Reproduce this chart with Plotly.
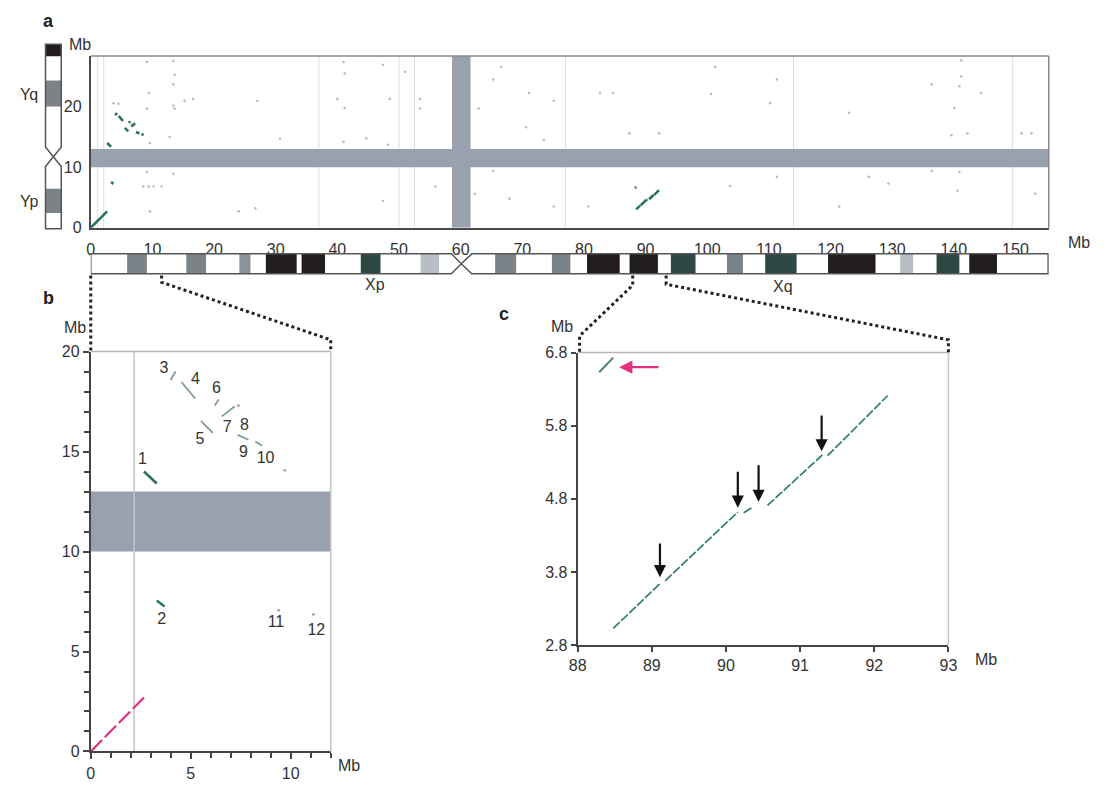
import plotly.graph_objects as go

# The page body keeps its default 8px margin, so the figure is sized to fill
# the 1111x790 window exactly and pixel positions are measured from the window.
WIN_W, WIN_H = 1111, 790
OFF = 8
W, H = WIN_W - 2 * OFF, WIN_H - 2 * OFF
def px(x): return (x - OFF) / W
def py(y): return 1 - (y - OFF) / H

FONT = "Liberation Sans, Arial, Helvetica, sans-serif"
TEAL = "#2b7463"
TEAL_C = "#2f7f70"
PINK = "#e0307f"
BAND = "#9aa1ae"

# ---------------- data ----------------
# Panel a: X chromosome (Mb, x) vs Y chromosome (Mb, y)
a_xticks = list(range(0, 151, 10))
a_yticks = [0, 10, 20]
a_xmax, a_ymax = 155.4, 28.4
a_band_y = [10.0, 13.0]          # masked region on Y
a_band_x = [58.6, 61.6]          # masked region on X (centromere)
a_vlines = [1.1, 2.1, 37.0, 50.0, 52.5, 77.0, 114.0, 149.5]

a_dot_x = [9.1, 13.4, 13.6, 13.4, 9.4, 13.4, 13.6, 9.1, 3.7, 4.5, 15.2, 16.6, 12.8, 9.6, 9.1, 13.4,
           8.5, 9.4, 10.2, 11.5, 9.6, 24.0, 26.7, 30.7, 27.0, 41.0, 41.2, 40.0, 41.2, 41.0, 44.7, 48.2,
           47.4, 48.5, 51.0, 53.4, 53.4, 62.9, 65.3, 66.6, 71.1, 75.1, 70.6, 73.5, 82.6, 84.7, 92.2,
           87.4, 62.3, 67.9, 65.3, 55.9, 47.4, 75.1, 80.7, 101.3, 100.6, 111.3, 110.2, 123.0, 136.4,
           141.2, 141.2, 140.9, 140.1, 144.4, 139.6, 142.2, 151.0, 152.6, 140.9, 140.6, 136.4, 103.7,
           126.2, 121.4, 129.4, 153.2, 111.3]
a_dot_y = [27.4, 27.6, 25.3, 23.7, 22.3, 20.2, 19.7, 19.7, 20.6, 20.5, 21.0, 21.3, 15.0, 14.0, 9.2, 8.9,
           6.8, 6.8, 6.8, 6.8, 2.7, 2.7, 3.2, 14.7, 21.0, 27.4, 25.5, 21.3, 19.8, 14.2, 14.8, 13.7,
           26.9, 21.3, 25.8, 21.3, 19.7, 19.7, 24.5, 26.6, 22.3, 21.0, 16.6, 14.5, 22.3, 22.3, 15.6,
           15.6, 5.6, 4.8, 9.4, 6.8, 4.4, 3.5, 3.5, 26.6, 22.1, 24.5, 20.6, 19.0, 23.7, 27.7, 25.0,
           23.4, 19.8, 22.3, 15.3, 15.6, 15.6, 15.6, 9.2, 6.1, 9.4, 6.9, 8.4, 3.5, 7.3, 5.6, 8.4]

# Diagonal match at the tip of Xp / Yp (PAR1)
diag_x = [0.0, 2.66]
diag_y = [0.0, 2.70]

# Panel b: segments in the 0-12 Mb (X) x 0-20 Mb (Y) window
b_xticks = [0, 5, 10]
b_yticks = [0, 5, 10, 15, 20]
b_vline = 2.17
b_seg_x0 = [2.66, 3.30, 3.99, 4.53, 5.52, 6.20, 6.55, 7.34, 8.23]
b_seg_x1 = [3.30, 3.69, 4.24, 5.22, 6.10, 6.40, 7.19, 7.88, 8.57]
b_seg_y0 = [14.00, 7.55, 18.58, 18.48, 16.52, 17.30, 16.76, 15.83, 15.50]
b_seg_y1 = [13.40, 7.25, 19.00, 17.65, 15.93, 17.60, 17.25, 15.59, 15.29]
b_seg_dark = [True, True, False, False, False, False, False, False, False]
b_dot_x = [9.70, 9.40, 11.13, 7.38]
b_dot_y = [14.07, 7.06, 6.86, 17.30]
b_lab_text = ["1", "2", "3", "4", "5", "6", "7", "8", "9", "10", "11", "12"]
b_lab_x = [2.59, 3.55, 3.66, 5.23, 5.46, 6.28, 6.82, 7.69, 7.64, 8.74, 9.26, 11.28]
b_lab_y = [14.56, 6.57, 19.13, 18.56, 15.59, 18.15, 16.19, 16.27, 14.94, 14.64, 6.42, 6.03]

# Panel c: 88-93 Mb (X) x 2.8-6.8 Mb (Y)
c_xticks = [88, 89, 90, 91, 92, 93]
c_yticks = [2.8, 3.8, 4.8, 5.8, 6.8]
c_seg_x0 = [88.48, 89.18, 90.24, 90.56, 91.37]
c_seg_x1 = [89.11, 90.16, 90.35, 91.30, 92.18]
c_seg_y0 = [3.03, 3.68, 4.61, 4.71, 5.39]
c_seg_y1 = [3.64, 4.62, 4.68, 5.40, 6.21]
c_extra_x = [88.29, 88.48]
c_extra_y = [6.53, 6.73]
c_arrow_x = [89.11, 90.16, 90.44, 91.29]
c_arrow_tail = [4.21, 5.19, 5.28, 5.96]
c_arrow_tip = [3.73, 4.68, 4.76, 5.45]
c_pink_tail = (89.11, 6.60)
c_pink_head = (88.56, 6.60)

# X chromosome ideogram (Mb)
x_len = 155.3
x_cen, x_cen_lo, x_cen_hi = 60.1, 58.5, 61.8
x_band_start = [5.9, 15.5, 24.1, 28.4, 34.2, 43.8, 53.5, 65.6, 74.8, 80.5, 87.4, 94.1, 103.2, 109.4, 119.6, 131.3, 137.2, 142.5]
x_band_end = [9.1, 18.7, 25.9, 33.4, 38.0, 47.0, 56.5, 69.0, 77.8, 85.8, 92.0, 98.1, 105.8, 114.5, 127.3, 133.4, 140.9, 147.0]
x_band_kind = ["grey", "grey", "grey2", "black", "black", "teal", "light", "grey", "grey", "black", "black", "teal", "grey", "teal", "black", "light", "teal", "black"]
# Y chromosome ideogram (Mb, drawn scale)
y_len = 30.5
y_cen, y_cen_lo, y_cen_hi = 11.9, 10.3, 13.5
y_band_start = [28.5, 20.2, 2.6]
y_band_end = [30.5, 24.5, 6.6]
y_band_kind = ["black", "grey", "grey"]
band_colors = {"grey": "#7b8388", "grey2": "#8a9398", "black": "#221e1f", "teal": "#2e4644", "light": "#b9bdc5"}

# ---------------- figure ----------------
fig = go.Figure()

def seg_xy(x0, x1, y0, y1):
    xs, ys = [], []
    for a, b, c, d in zip(x0, x1, y0, y1):
        xs += [a, b, None]
        ys += [c, d, None]
    return xs, ys

# panel a traces
fig.add_trace(go.Scatter(x=a_dot_x, y=a_dot_y, mode="markers", xaxis="x", yaxis="y",
                         marker=dict(size=2.6, color="#9a9f9f", opacity=0.7), hoverinfo="skip"))
ax_s, ay_s = seg_xy(b_seg_x0 + c_seg_x0 + [diag_x[0], c_extra_x[0]],
                    b_seg_x1 + c_seg_x1 + [diag_x[1], c_extra_x[1]],
                    b_seg_y0 + c_seg_y0 + [diag_y[0], c_extra_y[0]],
                    b_seg_y1 + c_seg_y1 + [diag_y[1], c_extra_y[1]])
fig.add_trace(go.Scatter(x=ax_s, y=ay_s, mode="lines", xaxis="x", yaxis="y",
                         line=dict(color=TEAL, width=2.6), hoverinfo="skip"))

# panel b traces
dx0 = [v for v, d in zip(b_seg_x0, b_seg_dark) if d]
dx1 = [v for v, d in zip(b_seg_x1, b_seg_dark) if d]
dy0 = [v for v, d in zip(b_seg_y0, b_seg_dark) if d]
dy1 = [v for v, d in zip(b_seg_y1, b_seg_dark) if d]
lx0 = [v for v, d in zip(b_seg_x0, b_seg_dark) if not d]
lx1 = [v for v, d in zip(b_seg_x1, b_seg_dark) if not d]
ly0 = [v for v, d in zip(b_seg_y0, b_seg_dark) if not d]
ly1 = [v for v, d in zip(b_seg_y1, b_seg_dark) if not d]
xs, ys = seg_xy(dx0, dx1, dy0, dy1)
fig.add_trace(go.Scatter(x=xs, y=ys, mode="lines", xaxis="x2", yaxis="y2",
                         line=dict(color=TEAL, width=2.6), hoverinfo="skip"))
xs, ys = seg_xy(lx0, lx1, ly0, ly1)
fig.add_trace(go.Scatter(x=xs, y=ys, mode="lines", xaxis="x2", yaxis="y2",
                         line=dict(color="#7f9c97", width=1.8), hoverinfo="skip"))
fig.add_trace(go.Scatter(x=b_dot_x, y=b_dot_y, mode="markers", xaxis="x2", yaxis="y2",
                         marker=dict(size=3, color="#a8b0ae"), hoverinfo="skip"))
fig.add_trace(go.Scatter(x=diag_x, y=diag_y, mode="lines", xaxis="x2", yaxis="y2",
                         line=dict(color=PINK, width=2.2, dash="16px,4px"), hoverinfo="skip"))
fig.add_trace(go.Scatter(x=b_lab_x, y=b_lab_y, mode="text", text=b_lab_text, xaxis="x2", yaxis="y2",
                         textfont=dict(size=16, color="#333", family=FONT), hoverinfo="skip"))

# panel c traces
xs, ys = seg_xy(c_seg_x0, c_seg_x1, c_seg_y0, c_seg_y1)
fig.add_trace(go.Scatter(x=xs, y=ys, mode="lines", xaxis="x3", yaxis="y3",
                         line=dict(color=TEAL_C, width=1.7, dash="9px,2px"), hoverinfo="skip"))
fig.add_trace(go.Scatter(x=c_extra_x, y=c_extra_y, mode="lines", xaxis="x3", yaxis="y3",
                         line=dict(color="#4f7f78", width=2), hoverinfo="skip"))

# ideogram axes placeholders
fig.add_trace(go.Scatter(x=[None], y=[None], xaxis="x4", yaxis="y4", hoverinfo="skip"))
fig.add_trace(go.Scatter(x=[None], y=[None], xaxis="x5", yaxis="y5", hoverinfo="skip"))

tickfont = dict(size=16, color="#333", family=FONT)
common = dict(showgrid=False, zeroline=False, tickfont=tickfont)

fig.update_layout(
    width=W, height=H, margin=dict(l=0, r=0, t=0, b=0),
    paper_bgcolor="white", plot_bgcolor="white", showlegend=False,
    font=dict(family=FONT, color="#333"),
    # panel a
    xaxis=dict(domain=[px(83), px(1057)], range=[0, a_xmax], anchor="y", tickvals=a_xticks,
               showline=True, linecolor="#4a4a4a", linewidth=2, ticks="", ticklabelstandoff=6, **common),
    yaxis=dict(domain=[py(225), py(49)], range=[0, a_ymax], anchor="x", tickvals=a_yticks,
               showline=True, linecolor="#4a4a4a", linewidth=2, ticks="", ticklabelstandoff=4, **common),
    # panel b
    xaxis2=dict(domain=[px(83), px(327)], range=[0, 12], anchor="y2", tickvals=b_xticks,
                showline=True, linecolor="#444", linewidth=2, ticks="outside", ticklen=6, tickwidth=1.5,
                tickcolor="#444", minor=dict(dtick=1, ticks="outside", ticklen=5, tickwidth=1.5, tickcolor="#444"),
                **common),
    yaxis2=dict(domain=[py(762), py(352)], range=[0, 20], anchor="x2", tickvals=b_yticks,
                showline=True, linecolor="#444", linewidth=2, ticks="outside", ticklen=6, tickwidth=1.5,
                tickcolor="#444", minor=dict(dtick=1, ticks="outside", ticklen=5, tickwidth=1.5, tickcolor="#444"),
                **common),
    # panel c
    xaxis3=dict(domain=[px(578), px(955)], range=[88, 93], anchor="y3", tickvals=c_xticks,
                showline=True, linecolor="#444", linewidth=2, ticks="outside", ticklen=5, tickwidth=1.5,
                tickcolor="#444", **common),
    yaxis3=dict(domain=[py(653), py(353)], range=[2.8, 6.8], anchor="x3", tickvals=c_yticks,
                tickformat=".1f", showline=True, linecolor="#444", linewidth=2, ticks="outside", ticklen=5,
                tickwidth=1.5, tickcolor="#444", **common),
    # Y ideogram
    xaxis4=dict(domain=[px(35.4), px(54.6)], range=[-0.1, 1.1], anchor="y4", visible=False),
    yaxis4=dict(domain=[py(227.9), py(35.1)], range=[-0.3, 30.8], anchor="x4", visible=False),
    # X ideogram
    xaxis5=dict(domain=[px(83), px(1057)], range=[0, a_xmax], anchor="y5", visible=False),
    yaxis5=dict(domain=[py(273.8), py(250.2)], range=[-0.08, 1.08], anchor="x5", visible=False),
)

shapes = []
# panel a grey masked bands and faint lines
for v in a_vlines:
    shapes.append(dict(type="line", xref="x", yref="y", x0=v, x1=v, y0=0, y1=a_ymax,
                       line=dict(color="#dcdcdc", width=1), layer="below"))
shapes.append(dict(type="rect", xref="x", yref="y", x0=0, x1=a_xmax, y0=a_band_y[0], y1=a_band_y[1],
                   fillcolor=BAND, line=dict(width=0), layer="below"))
shapes.append(dict(type="rect", xref="x", yref="y", x0=a_band_x[0], x1=a_band_x[1], y0=0, y1=a_ymax,
                   fillcolor=BAND, line=dict(width=0), layer="below"))
shapes.append(dict(type="line", xref="x domain", yref="y domain", x0=0, x1=1, y0=1, y1=1,
                   line=dict(color="#8a8a8a", width=1.5)))
shapes.append(dict(type="line", xref="x domain", yref="y domain", x0=1, x1=1, y0=0, y1=1,
                   line=dict(color="#8a8a8a", width=1.5)))
# panel b
shapes.append(dict(type="rect", xref="x2", yref="y2", x0=0, x1=12, y0=a_band_y[0], y1=a_band_y[1],
                   fillcolor=BAND, line=dict(width=0), layer="below"))
shapes.append(dict(type="line", xref="x2", yref="y2", x0=b_vline, x1=b_vline, y0=0, y1=20,
                   line=dict(color="#c4c4c4", width=1.5), layer="below"))
shapes.append(dict(type="line", xref="x2 domain", yref="y2 domain", x0=0, x1=1, y0=1, y1=1,
                   line=dict(color="#b5b5b5", width=1.5)))
shapes.append(dict(type="line", xref="x2 domain", yref="y2 domain", x0=1, x1=1, y0=0, y1=1,
                   line=dict(color="#c4c4c4", width=1.5)))
# panel c
shapes.append(dict(type="line", xref="x3 domain", yref="y3 domain", x0=0, x1=1, y0=1, y1=1,
                   line=dict(color="#b5b5b5", width=1.5)))
shapes.append(dict(type="line", xref="x3 domain", yref="y3 domain", x0=1, x1=1, y0=0, y1=1,
                   line=dict(color="#c4c4c4", width=1.5)))

# X ideogram
x_outline = (f"M 0,0 L {x_cen_lo},0 L {x_cen},0.5 L {x_cen_hi},0 L {x_len},0 L {x_len},1 "
             f"L {x_cen_hi},1 L {x_cen},0.5 L {x_cen_lo},1 L 0,1 Z")
shapes.append(dict(type="path", xref="x5", yref="y5", path=x_outline, fillcolor="white", line=dict(width=0)))
for s, e, k in zip(x_band_start, x_band_end, x_band_kind):
    shapes.append(dict(type="rect", xref="x5", yref="y5", x0=s, x1=e, y0=0, y1=1,
                       fillcolor=band_colors[k], line=dict(width=0)))
shapes.append(dict(type="path", xref="x5", yref="y5", path=x_outline, line=dict(color="#555", width=1.5)))

# Y ideogram
y_outline = (f"M 0,0 L 0,{y_cen_lo} L 0.5,{y_cen} L 0,{y_cen_hi} L 0,{y_len} L 1,{y_len} "
             f"L 1,{y_cen_hi} L 0.5,{y_cen} L 1,{y_cen_lo} L 1,0 Z")
shapes.append(dict(type="path", xref="x4", yref="y4", path=y_outline, fillcolor="white", line=dict(width=0)))
for s, e, k in zip(y_band_start, y_band_end, y_band_kind):
    shapes.append(dict(type="rect", xref="x4", yref="y4", x0=0, x1=1, y0=s, y1=e,
                       fillcolor=band_colors[k], line=dict(width=0)))
shapes.append(dict(type="path", xref="x4", yref="y4", path=y_outline, line=dict(color="#555", width=1.5)))

# dotted connectors (pixel layout)
def dotted(points):
    p = "M " + " L ".join(f"{px(a)},{py(b)}" for a, b in points)
    return dict(type="path", xref="paper", yref="paper", path=p,
                line=dict(color="#222", width=3, dash="dot"))
shapes.append(dotted([(83, 274), (83, 352)]))
shapes.append(dotted([(155, 274), (155, 281), (327, 340), (327, 352)]))
shapes.append(dotted([(634, 274), (634, 284), (580, 336), (580, 353)]))
shapes.append(dotted([(668, 274), (668, 283), (955, 340), (955, 353)]))
fig.update_layout(shapes=shapes)

ann = []
def txt(x, y, t, size=16, bold=False, xanchor="center"):
    ann.append(dict(xref="paper", yref="paper", x=px(x), y=py(y), text=(f"<b>{t}</b>" if bold else t),
                    showarrow=False, xanchor=xanchor, yanchor="middle",
                    font=dict(size=size, color="#333" if not bold else "#222", family=FONT)))
txt(40, 13, "a", 18, True)
txt(40, 297, "b", 18, True)
txt(503, 314, "c", 18, True)
txt(372, 283, "Xp")
txt(787, 285, "Xq")
txt(20, 88, "Yq")
txt(20, 198, "Yp")
txt(72, 37, "Mb")
txt(1088, 240, "Mb")
txt(67, 327, "Mb")
txt(346, 776, "Mb")
txt(562, 326, "Mb")
txt(993, 668, "Mb")

for xa, t0, t1 in zip(c_arrow_x, c_arrow_tail, c_arrow_tip):
    ann.append(dict(xref="x3", yref="y3", axref="x3", ayref="y3", x=xa, y=t1, ax=xa, ay=t0,
                    text="", showarrow=True, arrowhead=2, arrowsize=1.1, arrowwidth=2.2, arrowcolor="#111"))
ann.append(dict(xref="x3", yref="y3", axref="x3", ayref="y3", x=c_pink_head[0], y=c_pink_head[1],
                ax=c_pink_tail[0], ay=c_pink_tail[1], text="", showarrow=True, arrowhead=2,
                arrowsize=1.1, arrowwidth=2.4, arrowcolor=PINK))
fig.update_layout(annotations=ann)

fig.write_html("out.html", config={"displayModeBar": False})
